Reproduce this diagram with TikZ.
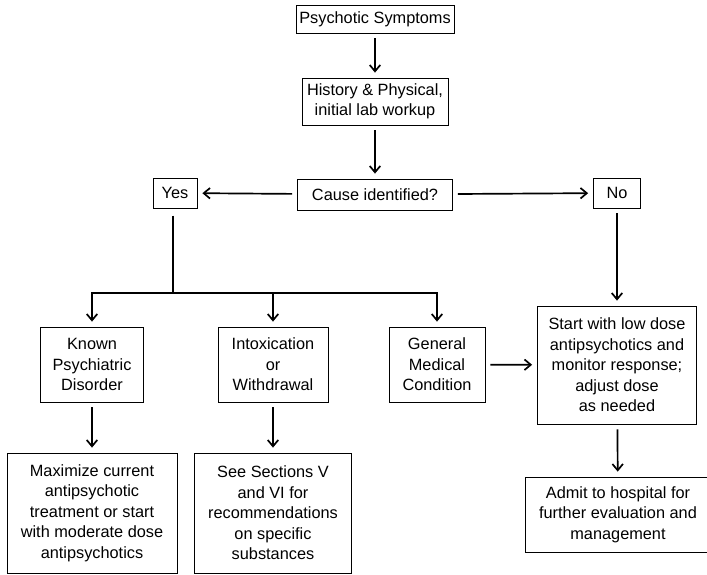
\documentclass[tikz,border=0pt]{standalone}
\usepackage{fontspec}
\setmainfont{Liberation Sans}
\usetikzlibrary{arrows.meta}

\begin{document}
\begin{tikzpicture}[x=0.025cm, y=-0.025cm,
    box/.style={draw, line width=0.65pt, align=center, inner sep=0pt,
      font=\fontsize{11.6}{14.6}\selectfont},
    flow/.style={->, line width=1.2pt, shorten <=3.5pt, shorten >=3.5pt},
    drop/.style={->, line width=1.2pt, shorten >=3.5pt},
    >={Straight Barb[length=4.5pt, width=7.5pt, line width=1.2pt]}]
    \useasboundingbox (0,0) rectangle (707,574);
    % top of the chart
    \node (psy) at (375,19) [box, minimum width=3.95cm, minimum height=0.7cm] {Psychotic Symptoms};
    \node (hist) at (375,101.5) [box, minimum width=3.65cm, minimum height=1.175cm] {History \& Physical,\\initial lab workup};
    \node (cause) at (375,194.5) [box, minimum width=3.875cm, minimum height=0.775cm] {Cause identified?};
    \node (yes) at (175,193) [box, minimum width=1.1cm, minimum height=0.75cm] {Yes};
    \node (no) at (617,193) [box, minimum width=1.175cm, minimum height=0.75cm] {No};
    % causes
    \node (known) at (92,364.5) [box, minimum width=2.575cm, minimum height=1.875cm] {Known\\Psychiatric\\Disorder};
    \node (intox) at (273,364.5) [box, minimum width=2.75cm, minimum height=1.875cm] {Intoxication\\or\\Withdrawal};
    \node (general) at (437,364.5) [box, minimum width=2.4cm, minimum height=1.875cm] {General\\Medical\\Condition};
    \node (start) at (617,365) [box, minimum width=3.975cm, minimum height=2.95cm] {Start with low dose\\antipsychotics and\\monitor response;\\adjust dose\\as needed};
    % treatment
    \node (max) at (92,513) [box, minimum width=4.25cm, minimum height=3.0cm] {Maximize current\\antipsychotic\\treatment or start\\with moderate dose\\antipsychotics};
    \node (see) at (273,513) [box, minimum width=3.925cm, minimum height=3.0cm] {See Sections V\\and VI for\\recommendations\\on specific\\substances};
    \node (admit) at (618,514.5) [box, minimum width=4.65cm, minimum height=1.875cm] {Admit to hospital for\\further evaluation and\\management};
    \coordinate (bar) at (173,293);
    % arrows
    \draw[flow] (psy) -- (hist);
    \draw[flow] (hist) -- (cause);
    \draw[flow] (cause) -- (yes);
    \draw[flow] (cause) -- (no);
    \draw[line width=1.2pt, shorten <=5pt] (yes.south -| bar) -- (bar);
    \draw[drop] (bar) -| (known);
    \draw[drop] (bar) -| (intox);
    \draw[drop] (bar) -| (general);
    \draw[flow] (no) -- (start);
    \draw[flow] (general) -- (start);
    \draw[flow] (known) -- (max);
    \draw[flow] (intox) -- (see);
    \draw[flow] (start) -- (admit);
\end{tikzpicture}
\end{document}
